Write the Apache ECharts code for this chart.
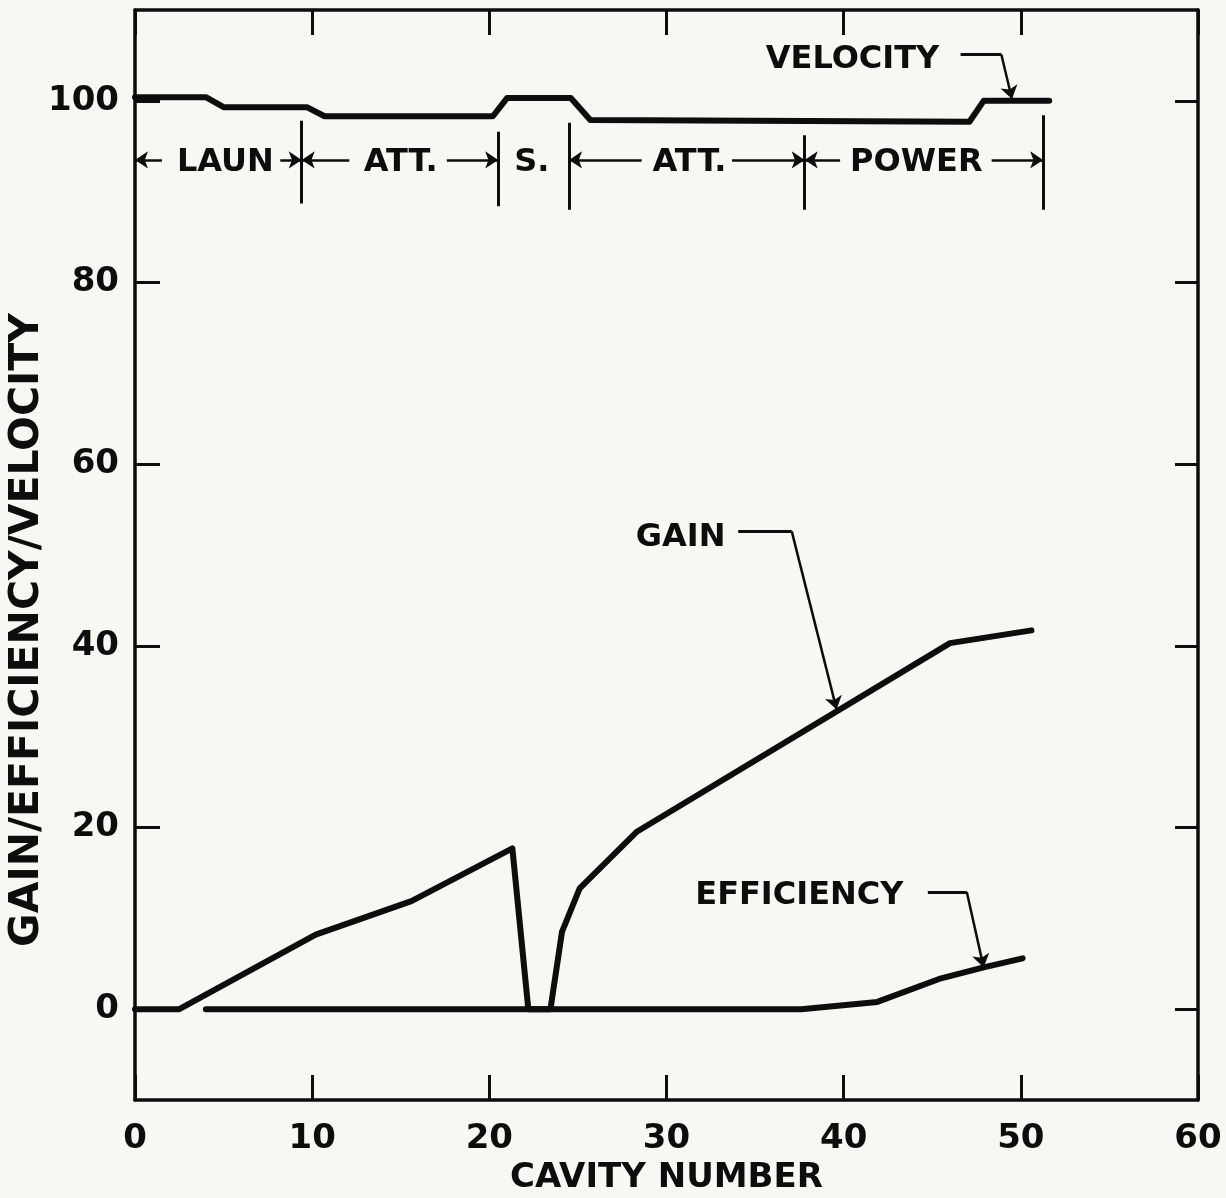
<!DOCTYPE html>
<html>
<head>
<meta charset="utf-8">
<script src="https://cdn.jsdelivr.net/npm/echarts@6/dist/echarts.min.js"></script>
<style>
  html, body { margin: 0; padding: 0; background: #f7f7f4; }
  #chart { width: 1226px; height: 1198px; }
</style>
</head>
<body>
<div id="chart"></div>
<script>
// Axis ticks
const xTicks = [0, 10, 20, 30, 40, 50, 60];
const yTicks = [0, 20, 40, 60, 80, 100];

// Gain along the tube (cavity number, value)
const gainX = [0, 2.5, 10.2, 15.6, 21.3, 22.2, 23.45, 24.1, 25.1, 28.3, 46.0, 50.6];
const gainY = [0, 0, 8.2, 11.9, 17.7, 0, 0, 8.5, 13.3, 19.5, 40.3, 41.7];

// Efficiency
const effX = [4, 37.6, 41.9, 45.5, 47.9, 50.1];
const effY = [0, 0, 0.8, 3.4, 4.6, 5.6];

// Relative velocity
const velX = [0, 4, 5, 9.7, 10.7, 20.2, 21, 24.6, 25.7, 47.1, 47.9, 51.6];
const velY = [100.4, 100.4, 99.3, 99.3, 98.3, 98.3, 100.3, 100.3, 97.9, 97.7, 100.0, 100.0];

// Tube sections: names, label centres and right-hand boundaries (cavity number)
const sectionNames = ['LAUN', 'ATT.', 'S.', 'ATT.', 'POWER'];
const sectionCenters = [5.1, 15.0, 22.4, 31.3, 44.1];
const sectionBounds = [9.41, 20.5, 24.5, 37.8, 51.26];
const boundTop = [97.8, 96.6, 97.6, 96.2, 98.4];
const boundBottom = [88.7, 88.4, 88.0, 88.0, 88.0];
const sectionRow = 93.5;
// dimension arrows: [start, tip] along the section row
const sectionArrows = [[1.52, 0], [8.2, 9.41], [12.1, 9.41], [17.6, 20.5],
                       [28.6, 24.5], [33.7, 37.8], [39.8, 37.8], [48.35, 51.26]];

// Curve call-outs: text anchor, leader elbow points, arrow tip
const callouts = [
  { text: 'VELOCITY',   at: [40.5, 104.9], leader: [[46.6, 105.1], [48.9, 105.1]], tip: [49.5, 100.2] },
  { text: 'GAIN',       at: [30.8, 52.2],  leader: [[34.05, 52.6], [37.07, 52.6]], tip: [39.6, 33.0] },
  { text: 'EFFICIENCY', at: [37.5, 12.8],  leader: [[44.75, 12.9], [46.95, 12.9]], tip: [47.9, 4.6] }
];

const zip = (xs, ys) => xs.map((x, i) => [x, ys[i]]);

const INK = '#0d0d0d';
const FONT = '"DejaVu Sans", sans-serif';

const chart = echarts.init(document.getElementById('chart'), null, { renderer: 'canvas' });

const axisCommon = {
  type: 'value',
  splitLine: { show: false },
  axisLine: { show: true, onZero: false, lineStyle: { color: INK, width: 3.5 } },
  axisTick: { show: true, inside: true, length: 25, lineStyle: { color: INK, width: 3 } }
};

const lineStyleData = { color: INK, width: 6, cap: 'round', join: 'round' };

// plain leader/boundary segments
const plainSegments = [];
sectionBounds.forEach((b, i) => {
  plainSegments.push({ coords: [[b, boundTop[i]], [b, boundBottom[i]]] });
});
callouts.forEach(c => {
  plainSegments.push({ coords: [c.leader[0], c.leader[1]] });
});

// segments ending in an arrow head
const arrowSegments = [];
sectionArrows.forEach(a => {
  arrowSegments.push({ coords: [[a[0], sectionRow], [a[1], sectionRow]] });
});
callouts.forEach(c => {
  arrowSegments.push({ coords: [c.leader[1], c.tip] });
});

const textItems = [];
sectionNames.forEach((n, i) => textItems.push({ name: n, value: [sectionCenters[i], sectionRow] }));
callouts.forEach(c => textItems.push({ name: c.text, value: c.at }));

chart.setOption({
  animation: false,
  backgroundColor: '#f7f7f4',
  grid: { left: 135, right: 28, top: 10, bottom: 98, containLabel: false, outerBoundsMode: 'none' },
  xAxis: [
    Object.assign({}, axisCommon, {
      position: 'bottom', min: xTicks[0], max: xTicks[xTicks.length - 1], interval: 10,
      axisLabel: { show: true, color: INK, fontFamily: FONT, fontWeight: 'bold', fontSize: 34, margin: 22,
                   showMinLabel: true, showMaxLabel: true },
      name: 'CAVITY NUMBER', nameLocation: 'middle', nameGap: 60,
      nameTextStyle: { color: INK, fontFamily: FONT, fontWeight: 'bold', fontSize: 34 }
    }),
    Object.assign({}, axisCommon, {
      position: 'top', min: xTicks[0], max: xTicks[xTicks.length - 1], interval: 10,
      axisLabel: { show: false }
    })
  ],
  yAxis: [
    Object.assign({}, axisCommon, {
      position: 'left', min: -10, max: 110,
      axisTick: { show: true, inside: true, length: 25, customValues: yTicks, lineStyle: { color: INK, width: 3 } },
      axisLabel: { show: true, customValues: yTicks, color: INK, fontFamily: FONT, fontWeight: 'bold', fontSize: 34, margin: 16 }
    }),
    Object.assign({}, axisCommon, {
      position: 'right', min: -10, max: 110,
      axisTick: { show: true, inside: true, length: 23, customValues: yTicks, lineStyle: { color: INK, width: 3 } },
      axisLabel: { show: false }
    })
  ],
  graphic: [{
    type: 'text',
    x: 27, y: 630,
    rotation: Math.PI / 2,
    style: {
      text: 'GAIN/EFFICIENCY/VELOCITY',
      fill: INK,
      font: 'bold 41px ' + FONT,
      align: 'center',
      verticalAlign: 'middle'
    }
  }],
  series: [
    { name: 'Gain', type: 'line', data: zip(gainX, gainY), showSymbol: false, symbol: 'none',
      lineStyle: lineStyleData, z: 3 },
    { name: 'Efficiency', type: 'line', data: zip(effX, effY), showSymbol: false, symbol: 'none',
      lineStyle: lineStyleData, z: 3 },
    { name: 'Velocity', type: 'line', data: zip(velX, velY), showSymbol: false, symbol: 'none',
      lineStyle: lineStyleData, z: 3 },
    { type: 'lines', coordinateSystem: 'cartesian2d', data: plainSegments,
      symbol: ['none', 'none'], lineStyle: { color: INK, width: 3, opacity: 1, curveness: 0 }, z: 4 },
    { type: 'lines', coordinateSystem: 'cartesian2d', data: arrowSegments,
      symbol: ['none', 'arrow'], symbolSize: 13,
      lineStyle: { color: INK, width: 2.5, opacity: 1, curveness: 0 }, z: 4 },
    { type: 'scatter', data: textItems, symbolSize: 0, silent: true,
      itemStyle: { opacity: 1, color: INK },
      label: { show: true, position: 'inside', formatter: '{b}', color: INK, opacity: 1,
               offset: [0, 3], textBorderWidth: 0,
               fontFamily: FONT, fontWeight: 'bold', fontSize: 32 }, z: 5 }
  ]
});
</script>
</body>
</html>
